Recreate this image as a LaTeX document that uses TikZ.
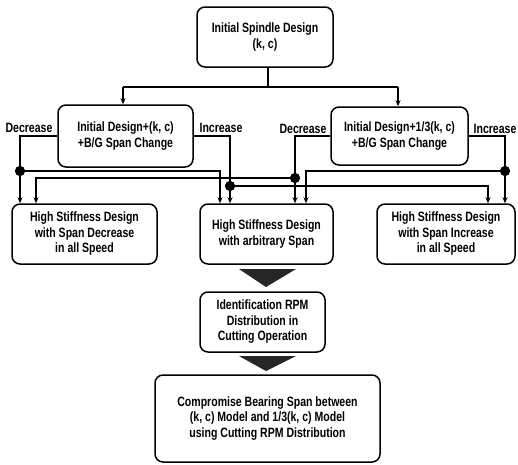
\documentclass[tikz,border=0pt]{standalone}
\usepackage{fontspec}
\setmainfont{Liberation Sans}[FakeStretch=0.78]
\usetikzlibrary{arrows.meta,calc}
\begin{document}
\begin{tikzpicture}[x=1pt,y=-1pt,
  every node/.style={font=\fontsize{13.5}{15.5}\selectfont\bfseries},
  box/.style={draw,line width=1.5pt,rounded corners=8pt,align=center,inner sep=0pt,fill=white},
  lbl/.style={inner sep=0pt},
  conn/.style={line width=1.6pt},
  arr/.style={conn,-{Stealth[length=6pt,width=5pt]}},
  dot/.style={circle,fill=black,inner sep=0pt,minimum size=10pt},
  fat/.style={fill=black!85}]
\useasboundingbox (0,0) rectangle (518,464);
% boxes
\node[box,minimum width=136pt,minimum height=60pt] (top) at (265,37) {Initial Spindle Design\\(k, c)};
\node[box,minimum width=135pt,minimum height=62pt] (L) at (125.5,136) {Initial Design+(k, c)\\+B/G Span Change};
\node[box,minimum width=137pt,minimum height=58pt] (R) at (399.5,136) {Initial Design+1/3(k, c)\\+B/G Span Change};
\node[box,minimum width=145pt,minimum height=60pt] (B1) at (84.5,234) {High Stiffness Design\\with Span Decrease\\in all Speed};
\node[box,minimum width=133pt,minimum height=60pt] (B2) at (266.5,234) {High Stiffness Design\\with arbitrary Span};
\node[box,minimum width=138pt,minimum height=60pt] (B3) at (446,234) {High Stiffness Design\\with Span Increase\\in all Speed};
\node[box,minimum width=125pt,minimum height=60pt] (Id) at (262.5,322) {Identification RPM\\Distribution in\\Cutting Operation};
\node[box,minimum width=225pt,minimum height=87pt] (F) at (267.5,418.5) {Compromise Bearing Span between\\(k, c) Model and 1/3(k, c) Model\\using Cutting RPM Distribution};
% labels
\node[lbl] (l1) at (29,128) {Decrease};
\node[lbl] (l2) at (221,128) {Increase};
\node[lbl] (l3) at (303,129) {Decrease};
\node[lbl] (l4) at (495,129) {Increase};
% coordinates
\coordinate (j) at (268,87);
\coordinate (cL) at (123,87);
\coordinate (cR) at (398,87);
\coordinate (x36) at (36,0);
\coordinate (x220) at (220,0);
\coordinate (x306) at (306,0);
\coordinate (x488) at (488,0);
% top bus
\draw[conn] (top.south -| j) -- (j);
\draw[conn] (cL) -- (cR);
\draw[arr] (cL) -- (cL |- L.north);
\draw[arr] (cR) -- (cR |- R.north);
% dots
\node[dot] (d1) at (20,171) {};
\node[dot] (d2) at (230,186) {};
\node[dot] (d3) at (295,178) {};
\node[dot] (d4) at (505,171) {};
% left box
\draw[conn] (L.west) -| (d1);
\draw[arr] (d1.center) -- (d1 |- B1.north);
\draw[arr] (d1.center) -| (x220 |- B2.north);
\draw[conn] (L.east) -| (d2);
\draw[arr] (d2.center) -- (d2 |- B2.north);
\draw[arr] (d2.center) -| (x488 |- B3.north);
% right box
\draw[conn] (R.west) -| (d3);
\draw[arr] (d3.center) -- (d3 |- B2.north);
\draw[arr] (d3.center) -| (x36 |- B1.north);
\draw[conn] (R.east) -| (d4);
\draw[arr] (d4.center) -- (d4 |- B3.north);
\draw[arr] (d4.center) -| (x306 |- B2.north);
% redraw dots on top
\node[dot] at (d1) {};
\node[dot] at (d2) {};
\node[dot] at (d3) {};
\node[dot] at (d4) {};
% fat arrows
\fill[fat] (239,269) -- (296,269) -- (266,287) -- cycle;
\fill[fat] (239,356) -- (296,356) -- (266,371) -- cycle;
\end{tikzpicture}
\end{document}
